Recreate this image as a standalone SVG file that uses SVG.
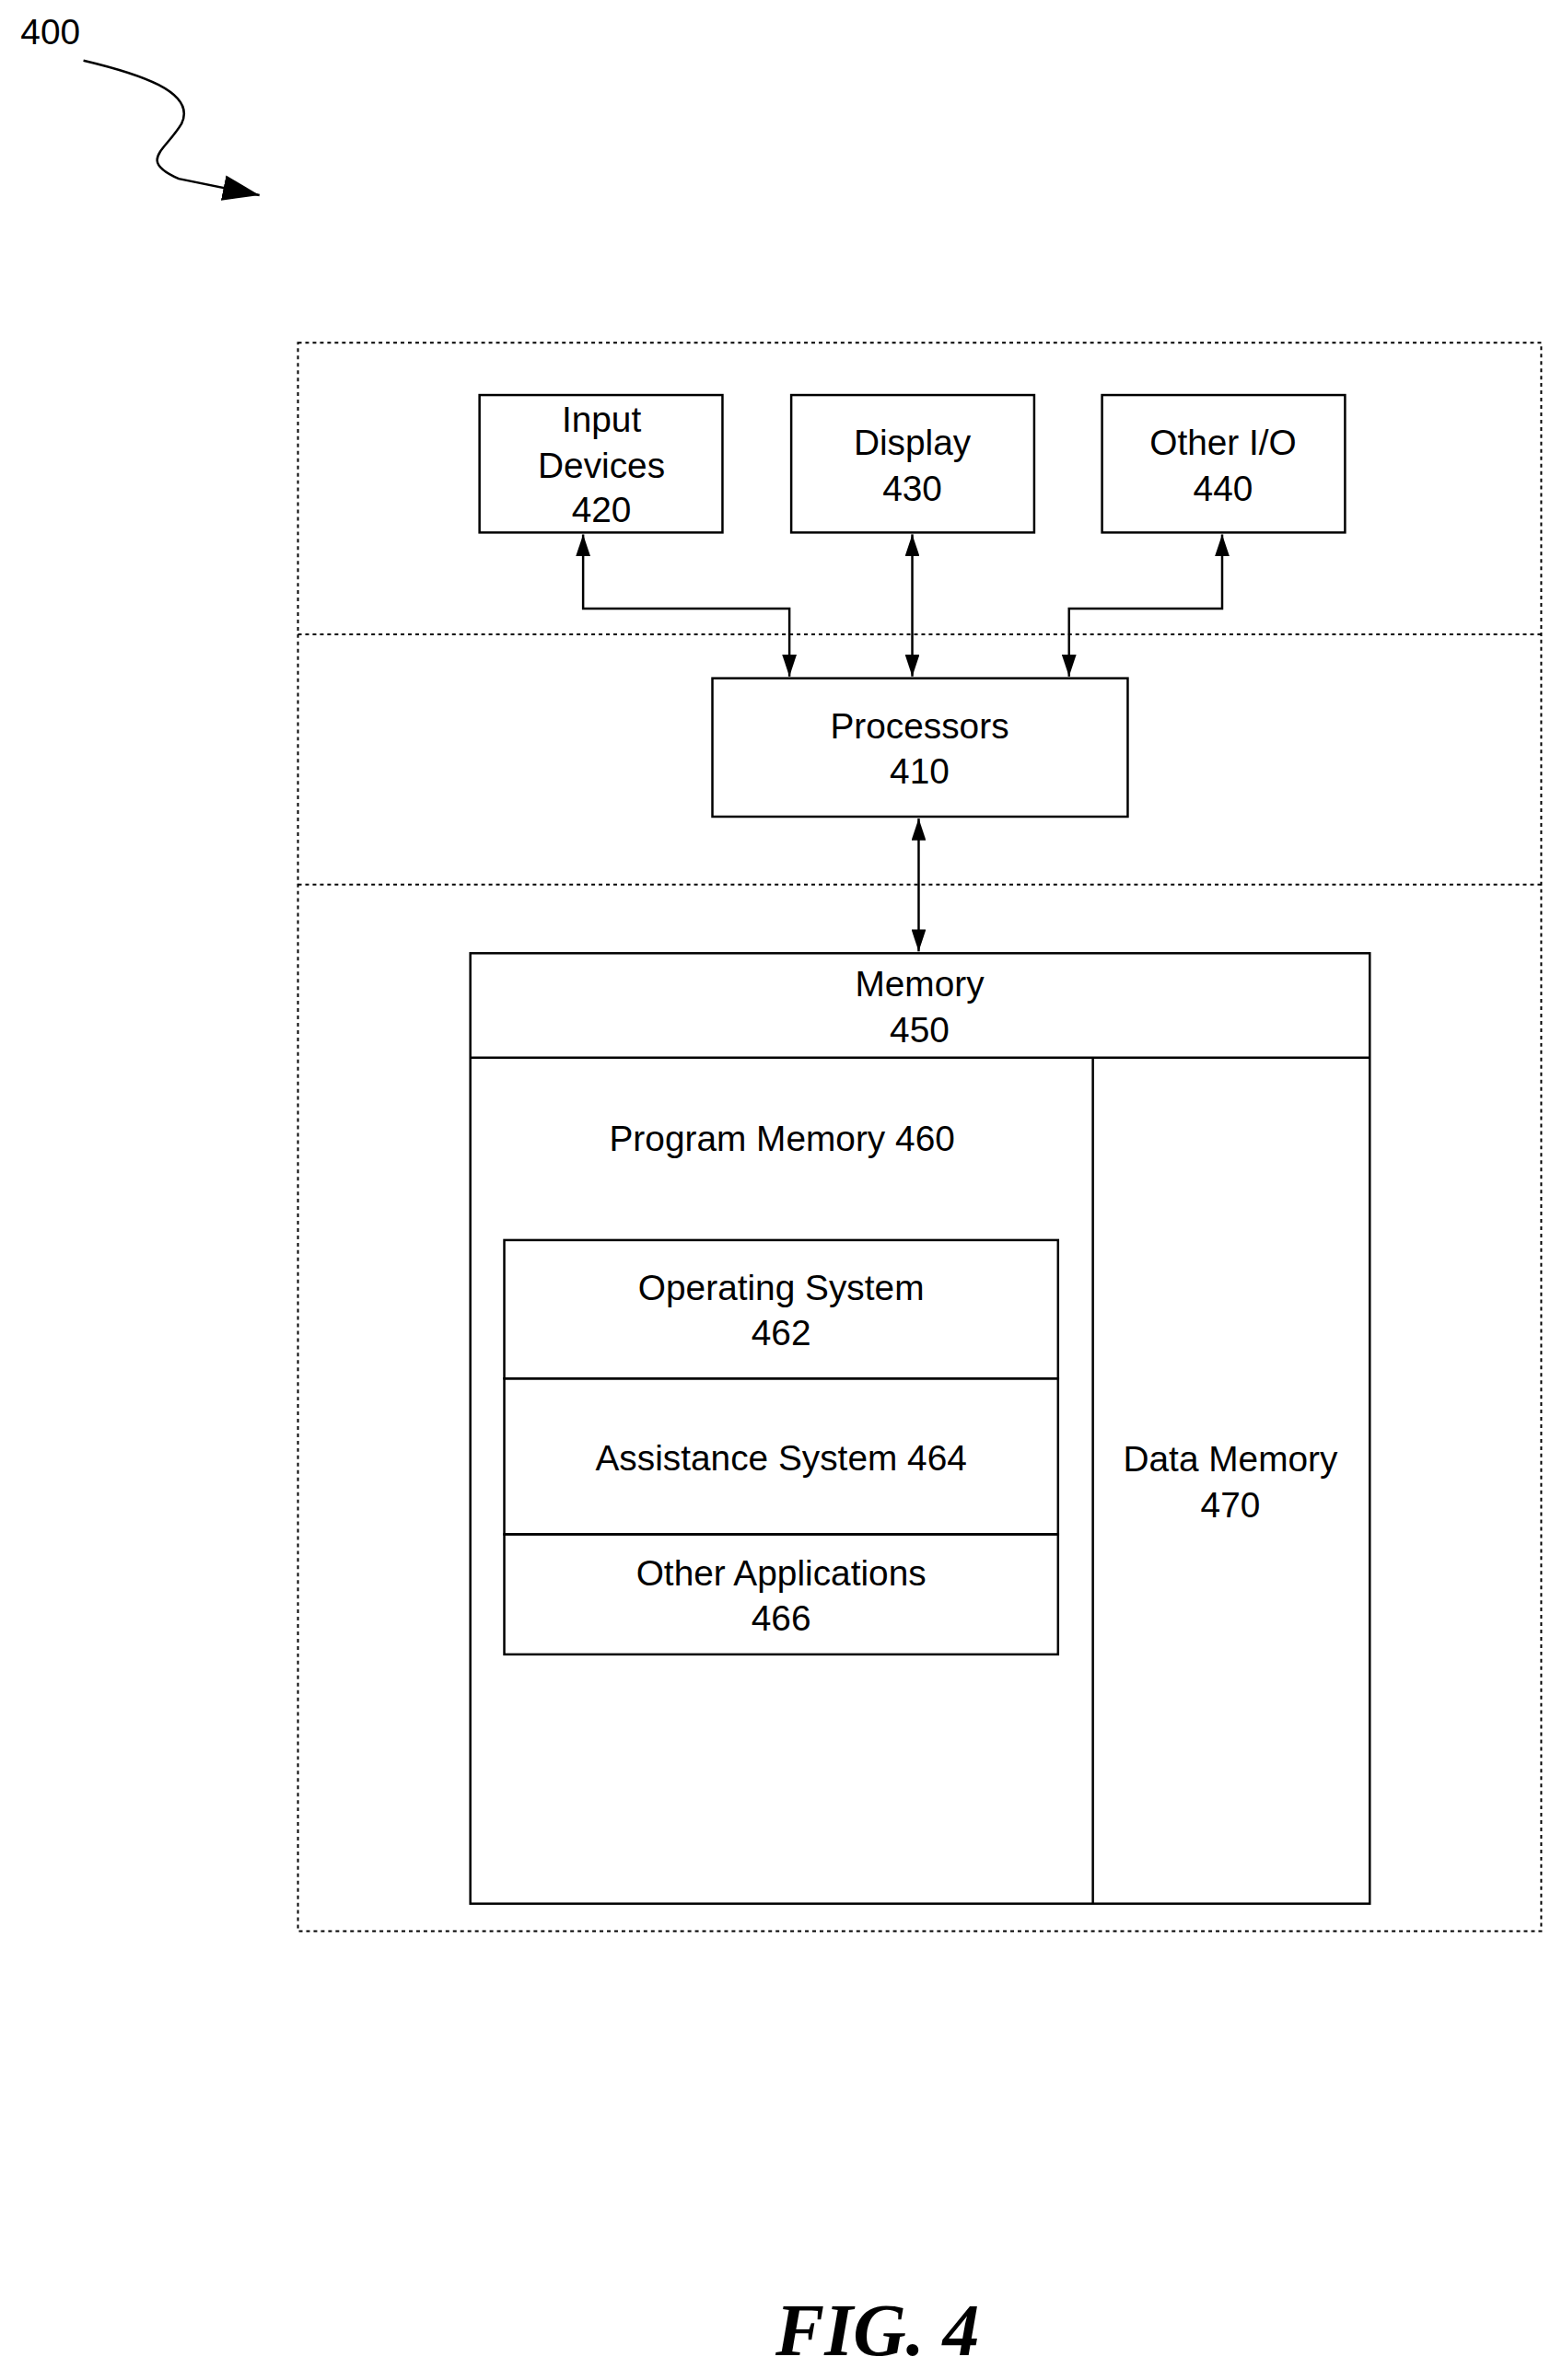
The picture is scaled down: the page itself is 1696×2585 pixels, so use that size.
<svg xmlns="http://www.w3.org/2000/svg" width="1696" height="2585" viewBox="0 0 1696 2585">
<style>
.b{fill:none;stroke:#000;stroke-width:2.5}
.d{fill:none;stroke:#000;stroke-width:2;stroke-dasharray:4 4}
.c{fill:none;stroke:#000;stroke-width:2.5}
text{font-family:"Liberation Sans",Arial,sans-serif;font-size:39px;text-anchor:middle;fill:#000}
</style>
<defs>
<marker id="a" viewBox="0 0 24 16" refX="24" refY="8" markerWidth="24" markerHeight="16" orient="auto-start-reverse" markerUnits="userSpaceOnUse"><path d="M0,0 L24,8 L0,16 z" fill="#000"/></marker>
<marker id="a2" viewBox="0 0 40 28" refX="40" refY="14" markerWidth="40" markerHeight="28" orient="auto" markerUnits="userSpaceOnUse"><path d="M0,0 L40,14 L0,28 z" fill="#000"/></marker>
</defs>
<rect width="1696" height="2585" fill="#fff"/>
<g transform="scale(0.9955)">
<g id="label400"><text x="55" y="48">400</text>
<path class="c" d="M91,66 C150,80 215,100 198,135 C180,165 150,175 195,195 L283,213" marker-end="url(#a2)"/></g>
<g id="frame"><rect class="d" x="325" y="374" width="1356" height="1733"/><line class="d" x1="325" y1="692" x2="1681" y2="692"/><line class="d" x1="325" y1="965" x2="1681" y2="965"/></g>
<g id="n420"><rect class="b" x="523" y="431" width="265" height="150"/><text x="656" y="471">Input</text><text x="656" y="521">Devices</text><text x="656" y="570">420</text></g>
<g id="n430"><rect class="b" x="863" y="431" width="265" height="150"/><text x="995" y="496">Display</text><text x="995" y="546">430</text></g>
<g id="n440"><rect class="b" x="1202" y="431" width="265" height="150"/><text x="1334" y="496">Other I/O</text><text x="1334" y="546">440</text></g>
<g id="n410"><rect class="b" x="777" y="740" width="453" height="151"/><text x="1003" y="806">Processors</text><text x="1003" y="855">410</text></g>
<g id="n450"><rect class="b" x="513" y="1040" width="981" height="1037"/><line class="b" x1="513" y1="1154" x2="1494" y2="1154"/><text x="1003" y="1087">Memory</text><text x="1003" y="1137">450</text></g>
<g id="n460"><line class="b" x1="1192" y1="1154" x2="1192" y2="2077"/><text x="853" y="1256">Program Memory 460</text></g>
<g id="n462"><rect class="b" x="550" y="1353" width="604" height="151"/><text x="852" y="1418">Operating System</text><text x="852" y="1468">462</text></g>
<g id="n464"><rect class="b" x="550" y="1504" width="604" height="170"/><text x="852" y="1604">Assistance System 464</text></g>
<g id="n466"><rect class="b" x="550" y="1674" width="604" height="131"/><text x="852" y="1730">Other Applications</text><text x="852" y="1779">466</text></g>
<g id="n470"><text x="1342" y="1605">Data Memory</text><text x="1342" y="1655">470</text></g>
<g id="connectors">
<path class="c" d="M636,583 V664 H861 V738" marker-start="url(#a)" marker-end="url(#a)"/>
<path class="c" d="M995,583 V738" marker-start="url(#a)" marker-end="url(#a)"/>
<path class="c" d="M1333,583 V664 H1166 V738" marker-start="url(#a)" marker-end="url(#a)"/>
<path class="c" d="M1002,893 V1038" marker-start="url(#a)" marker-end="url(#a)"/>
</g>
<text x="957" y="2570" style="font-family:'Liberation Serif','Times New Roman',serif;font-size:80px;font-weight:bold;font-style:italic">FIG. 4</text>
</g>
</svg>
